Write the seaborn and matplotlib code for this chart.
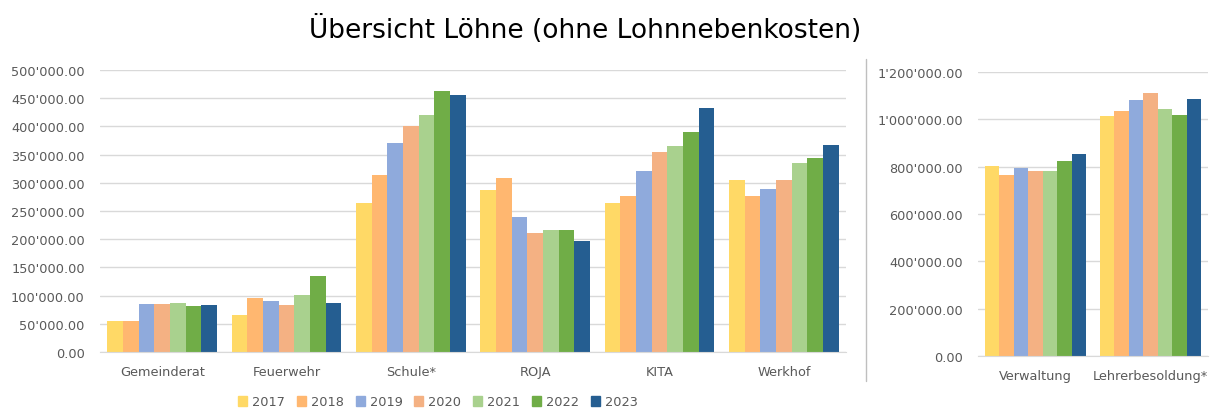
# Übersicht Löhne - Balkendiagramm

import matplotlib
matplotlib.use('Agg')
import matplotlib.pyplot as plt, \
       matplotlib.patches as mpatches
from matplotlib.ticker import FuncFormatter
from matplotlib.lines import Line2D
import seaborn as sns
import pandas as pd

# Daten
jahre = ['2017', '2018', '2019', '2020', '2021', '2022', '2023']

bereiche_links = ['Gemeinderat', 'Feuerwehr', 'Schule*', 'ROJA', 'KITA', 'Werkhof']
werte_links = {
    'Gemeinderat': [54300, 54300, 85600, 85600, 87400, 81500, 82600],
    'Feuerwehr':   [64900, 96200, 90300, 82600, 101500, 134600, 87400],
    'Schule*':     [264500, 314600, 370000, 400000, 420300, 462200, 456300],
    'ROJA':        [287500, 308700, 239000, 211300, 215500, 215500, 196600],
    'KITA':        [264500, 276300, 321700, 354200, 366000, 389600, 432100],
    'Werkhof':     [305200, 275700, 289300, 305200, 334700, 344200, 367200],
}

bereiche_rechts = ['Verwaltung', 'Lehrerbesoldung*']
werte_rechts = {
    'Verwaltung':       [801000, 763000, 794000, 780000, 780000, 822000, 853000],
    'Lehrerbesoldung*': [1015500, 1034000, 1083000, 1111000, 1044000, 1020000, 1087000],
}

# Farben pro Jahr
farben = {
    '2017': '#FFD966',
    '2018': '#FFB770',
    '2019': '#8FAADC',
    '2020': '#F4B183',
    '2021': '#A9D18E',
    '2022': '#70AD47',
    '2023': '#255E91',
}

def long_df(bereiche, werte):
    rows = []
    for b in bereiche:
        for j, v in zip(jahre, werte[b]):
            rows.append({'Bereich': b, 'Jahr': j, 'Betrag': v})
    return pd.DataFrame(rows)

df_links = long_df(bereiche_links, werte_links)
df_rechts = long_df(bereiche_rechts, werte_rechts)

sns.set_style("white")
plt.rcParams['font.family'] = ['DejaVu Sans']

grau = '#595959'
fmt = FuncFormatter(lambda x, pos: f"{x:,.2f}".replace(',', "'"))

fig = plt.figure(figsize=(12.14, 4.10), dpi=100)
ax1 = fig.add_axes([0.0824, 0.139, 0.6145, 0.688])
ax2 = fig.add_axes([0.8056, 0.129, 0.1895, 0.693])

for ax, data, ymax, step in [(ax1, df_links, 500000, 50000),
                             (ax2, df_rechts, 1200000, 200000)]:
    sns.barplot(data=data, x='Bereich', y='Betrag', hue='Jahr',
                hue_order=jahre, palette=farben, width=0.88,
                saturation=1, legend=False, linewidth=0, ax=ax)
    ax.set_ylim(0, ymax)
    ax.set_yticks(range(0, ymax + 1, step))
    ax.yaxis.set_major_formatter(fmt)
    ax.grid(axis='y', color='#D9D9D9', linewidth=1)
    ax.set_axisbelow(True)
    for s in ['top', 'right', 'left']:
        ax.spines[s].set_visible(False)
    ax.spines['bottom'].set_color('#D9D9D9')
    ax.set_xlabel('')
    ax.set_ylabel('')
    ax.tick_params(axis='both', length=0, colors=grau, labelsize=9.3)
    ax.tick_params(axis='y', pad=11)
    ax.tick_params(axis='x', pad=9)

ax2.set_xlim(-0.5, 1.5)

# Trennlinie
fig.add_artist(Line2D([866 / 1214, 866 / 1214], [1 - 60 / 410, 1 - 382 / 410],
                      color='#BFBFBF', linewidth=1))

# Titel
fig.text(585 / 1214, 1 - 30 / 410, 'Übersicht Löhne (ohne Lohnnebenkosten)',
         ha='center', va='center', fontsize=19, color='black')

# Legende
handles = [mpatches.Patch(color=farben[j], label=j) for j in jahre]
fig.legend(handles=handles, loc='center', bbox_to_anchor=(438 / 1214, 1 - 403 / 410),
           ncol=7, frameon=False, fontsize=9.3, handlelength=0.7, handleheight=0.7,
           handletextpad=0.4, columnspacing=0.9, labelcolor=grau)

fig.savefig('out.png', dpi=100)
